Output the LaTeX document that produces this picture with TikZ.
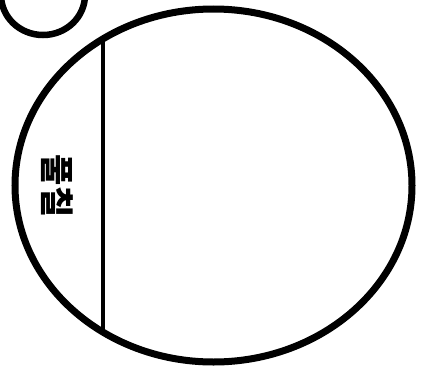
\documentclass[tikz,border=0pt]{standalone}
\usepackage{fontspec}
\newfontfamily\krfont{Noto Sans CJK KR}
\usetikzlibrary{math}

\begin{document}
\begin{tikzpicture}[x=1pt,y=1pt]

\tikzmath{
\W = 428;
\H = 368;
%big oval
\cx = 213.5;
\cy = 182.5;
\rx = 198.5;
\ry = 176.5;
%flap line
\fx = 102.5;
\ft = acos((\fx-\cx)/\rx);
\fyt = \cy + \ry*sin(\ft);
\fyb = \cy - \ry*sin(\ft);
%small loop, top left
\sx = 43;
\sy = 373;
\srx = 42;
\sry = 40;
}

\clip (0,0) rectangle (\W,\H);

\coordinate (C) at (\cx,\cy);
\coordinate (S) at (\sx,\sy);
\coordinate (FT) at (\fx,\fyt);
\coordinate (FB) at (\fx,\fyb);

%small loop
\draw[line width=6.5] (S) ellipse[x radius=\srx, y radius=\sry];
%oval
\draw[line width=7] (C) ellipse[x radius=\rx, y radius=\ry];
%flap
\draw[line width=4] (FT) -- (FB);
\node[rotate=-90, inner sep=0pt, font=\krfont\bfseries\fontsize{34}{34}\selectfont] (glue) at (57,182) {풀칠};

\end{tikzpicture}
\end{document}
